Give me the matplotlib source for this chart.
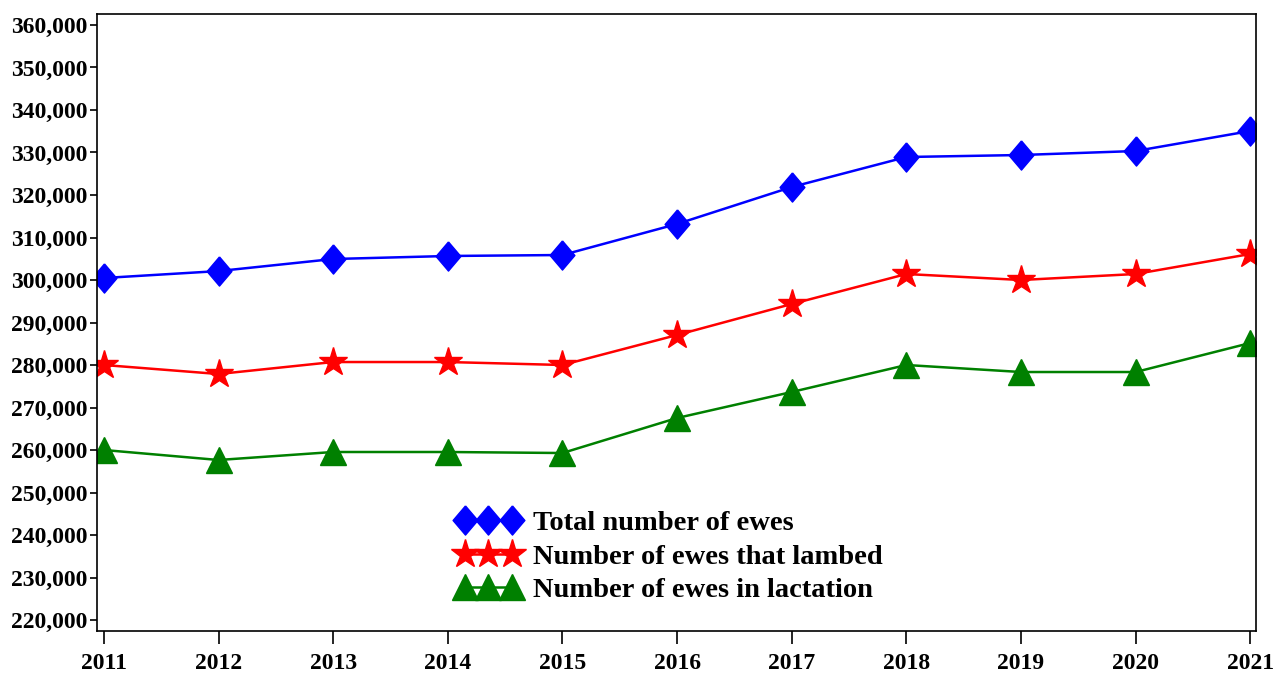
import matplotlib
matplotlib.use("Agg")
import matplotlib.pyplot as plt
from matplotlib.ticker import FuncFormatter, MultipleLocator

years = [2011, 2012, 2013, 2014, 2015, 2016, 2017, 2018, 2019, 2020, 2021]
total_ewes = [300470, 302100, 304940, 305650, 305880, 313180, 321880, 328940, 329410, 330350, 335060]
lambed_ewes = [280000, 277880, 280700, 280700, 280000, 287060, 294350, 301410, 300000, 301410, 306120]
lactation_ewes = [260000, 257650, 259530, 259530, 259290, 267530, 273650, 280000, 278350, 278350, 285180]
labels = ["Total number of ewes", "Number of ewes that lambed", "Number of ewes in lactation"]

plt.rcParams['font.family'] = ['Liberation Serif', 'DejaVu Serif']
plt.rcParams['font.weight'] = 'bold'

fig = plt.figure(figsize=(12.83, 6.73), dpi=100)
ax = fig.add_axes([0.0756, 0.0624, 0.9034, 0.9168])

diamond = [(0, 1), (0.85, 0), (0, -1), (-0.85, 0), (0, 1)]

ax.plot(years, total_ewes, color='#0000ff', lw=1.8, marker=diamond, ms=21,
        mfc='#0000ff', mec='#0000ff', label=labels[0])
ax.plot(years, lambed_ewes, color='#ff0000', lw=1.8, marker='*', ms=21,
        mfc='#ff0000', mec='#ff0000', label=labels[1])
ax.plot(years, lactation_ewes, color='#008000', lw=1.8, marker='^', ms=19,
        mfc='#008000', mec='#008000', label=labels[2])

ax.set_xlim(2010.94, 2021.05)
ax.set_ylim(217412, 362588)
ax.set_xticks(years)
ax.yaxis.set_major_locator(MultipleLocator(10000))
ax.yaxis.set_major_formatter(FuncFormatter(lambda v, p: f"{int(round(v)):,}"))

for s in ax.spines.values():
    s.set_linewidth(1.2)
ax.tick_params(axis='y', direction='out', length=5, width=1.2, labelsize=17, pad=2)
ax.tick_params(axis='x', direction='out', length=9.5, width=1.2, labelsize=17, pad=6.5)
for lab in ax.get_xticklabels() + ax.get_yticklabels():
    lab.set_fontweight('bold')

leg = ax.legend(loc='upper left', bbox_to_anchor=(0.30, 0.214), frameon=False,
                numpoints=3, handlelength=2.26, handletextpad=0.43, labelspacing=0.26,
                prop={'family': 'Liberation Serif', 'weight': 'bold', 'size': 20.5},
                borderaxespad=0)

fig.savefig("out.png", dpi=100)
